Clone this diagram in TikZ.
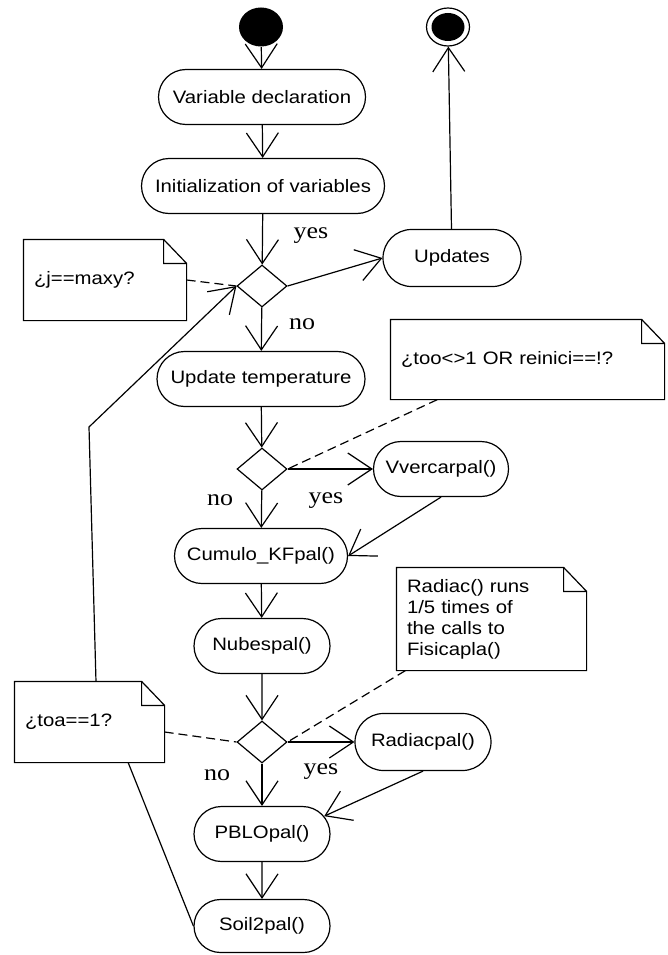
\documentclass[tikz,border=0pt]{standalone}
\usepackage{fontspec}
\setmainfont[FakeStretch=1.13]{Liberation Sans}
\newfontfamily\lblfont[FakeStretch=1.13]{Liberation Serif}
\usetikzlibrary{arrows.meta,shapes.geometric,shapes.misc}

\begin{document}
\begin{tikzpicture}[x=1pt,y=-1pt,line width=1.2pt,
  act/.style={draw,rounded rectangle,minimum height=55pt,inner sep=0pt,font=\fontsize{18}{21}\selectfont},
  dec/.style={draw,diamond,minimum width=50pt,minimum height=42pt,inner sep=0pt},
  note/.style={fill=white,align=left,inner xsep=10pt,inner ysep=0pt,font=\fontsize{18}{21}\selectfont},
  lbl/.style={font=\lblfont\fontsize{23}{23}\selectfont},
  flow/.style={-{Straight Barb[length=24pt,width=32pt]}},
  link/.style={dash pattern=on 9pt off 5pt}]
  \useasboundingbox (0,0) rectangle (667,955);
  \node[ellipse,fill,minimum width=44pt,minimum height=39pt,inner sep=0pt] (start) at (261,27) {};
  \node[ellipse,draw,minimum width=43pt,minimum height=38pt,inner sep=0pt] (stop) at (448,27) {};
  \node[ellipse,fill,minimum width=33pt,minimum height=28pt,inner sep=0pt] (stopin) at (stop) {};
  \node[act,minimum width=207pt] (vdecl) at (262,97) {Variable declaration};
  \node[act,minimum width=243pt] (vinit) at (263,186) {Initialization of variables};
  \node[dec] (dmaxy) at (262,286) {};
  \node[act,minimum width=138pt,minimum height=57pt] (upd) at (452,258) {Updates};
  \node[act,minimum width=208pt] (utemp) at (261,379) {Update temperature};
  \node[dec] (dtoo) at (262,469) {};
  \node[act,minimum width=135pt] (vverc) at (441,469) {Vvercarpal()};
  \node[act,minimum width=173pt] (cumulo) at (261,556) {Cumulo\_KFpal()};
  \node[act,minimum width=136pt] (nubes) at (262,646) {Nubespal()};
  \node[dec] (dtoa) at (262,742) {};
  \node[act,minimum width=136pt,minimum height=57pt] (radiac) at (423,742) {Radiacpal()};
  \node[act,minimum width=136pt] (pblo) at (262,834) {PBLOpal()};
  \node[act,minimum width=136pt,minimum height=53pt] (soil) at (262,926) {Soil2pal()};
  \coordinate (lpa) at (96,682);
  \coordinate (lpb) at (89,427);
  \draw[flow] (soil.west) -- (lpa) -- (lpb) -- (dmaxy.west);
  \node[note,text width=142pt,minimum height=80pt] (nmaxy) at (105,280) {¿j==maxy?};
  \node[note,text width=253pt,minimum height=79pt] (ntoo) at (527.5,359.5) {¿too<>1 OR reinici==!?};
  \node[note,text width=169pt,minimum height=102pt] (nradiac) at (491.5,619) {Radiac() runs\\1/5 times of\\the calls to\\Fisicapla()};
  \node[note,text width=129pt,minimum height=80pt] (ntoa) at (89.5,722) {¿toa==1?};
  \foreach \n in {nmaxy,ntoo,nradiac,ntoa}
    \draw (\n.south west) -- (\n.north west) -- ([xshift=-23pt]\n.north east) -- ([yshift=-24pt]\n.north east) -- (\n.south east) -- cycle
      ([xshift=-23pt]\n.north east) |- ([yshift=-24pt]\n.north east);
  \draw[flow] (start) -- (vdecl);
  \draw[flow] (vdecl) -- (vinit);
  \draw[flow] (vinit) -- (dmaxy);
  \draw[flow] (dmaxy.east) -- (upd.west);
  \draw[flow] (upd) -- (stop);
  \draw[flow] (dmaxy) -- (utemp);
  \draw[flow] (utemp) -- (dtoo);
  \draw[flow] (dtoo) -- (vverc);
  \draw[flow] (dtoo) -- (cumulo);
  \draw[flow] (vverc.south) -- (cumulo.east);
  \draw[flow] (cumulo) -- (nubes);
  \draw[flow] (nubes) -- (dtoa);
  \draw[flow] (dtoa) -- (radiac);
  \draw[flow] (dtoa) -- (pblo);
  \draw[flow] (radiac.south) -- (pblo.16);
  \draw[flow] (pblo) -- (soil);
  \draw[link] (nmaxy.east) -- (dmaxy.west);
  \draw[link] ([xshift=47pt]ntoo.south west) -- (dtoo.east);
  \draw[link] ([xshift=9pt]nradiac.south west) -- (dtoa.east);
  \draw[link] ([yshift=-10pt]ntoa.east) -- (dtoa.west);
  \node[lbl] (yes1) at (311,236) {yes};
  \node[lbl] (no1) at (302,324) {no};
  \node[lbl] (no2) at (220,500) {no};
  \node[lbl] (yes2) at (326,501) {yes};
  \node[lbl] (no3) at (217,775) {no};
  \node[lbl] (yes3) at (321,772) {yes};
\end{tikzpicture}
\end{document}
